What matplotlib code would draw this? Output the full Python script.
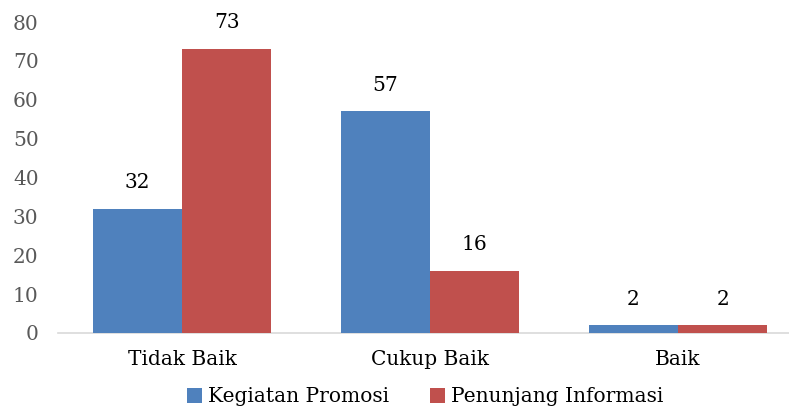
import matplotlib
matplotlib.use("Agg")
import matplotlib.pyplot as plt
import numpy as np

categories = ["Tidak Baik", "Cukup Baik", "Baik"]
series_names = ["Kegiatan Promosi", "Penunjang Informasi"]
kegiatan = [32, 57, 2]
penunjang = [73, 16, 2]
yticks = [0, 10, 20, 30, 40, 50, 60, 70, 80]

colors = ["#4F81BD", "#C0504D"]
plt.rcParams['font.family'] = ['DejaVu Serif']

W, H = 789, 409
fig = plt.figure(figsize=(W/100, H/100), dpi=100)
left_px, right_px = 58, 802
top_px, bot_px = 22, 333
ax = fig.add_axes([left_px/W, 1-bot_px/H, (right_px-left_px)/W, (bot_px-top_px)/H])

fs = 14.5
x = np.arange(len(categories))
bw = 0.36
for i, (vals, name) in enumerate([(kegiatan, series_names[0]), (penunjang, series_names[1])]):
    pos = x + (i-0.5)*bw
    ax.bar(pos, vals, width=bw, color=colors[i], label=name, zorder=3)
    for p, v in zip(pos, vals):
        ax.text(p, v + 4.3, str(v), ha='center', va='bottom', fontsize=fs, color='black')

ax.set_xlim(-0.5, len(categories)-0.5)
ax.set_ylim(0, 80)
ax.set_yticks(yticks)
ax.set_xticks(x)
ax.set_xticklabels(categories, fontsize=fs, color='black')
ax.tick_params(axis='y', labelsize=fs, labelcolor='#595959', length=0, pad=14)
ax.tick_params(axis='x', length=0, pad=12)
for s in ['top', 'right', 'left']:
    ax.spines[s].set_visible(False)
ax.spines['bottom'].set_color('#D9D9D9')
ax.spines['bottom'].set_linewidth(1.2)

fig.legend(loc='center', bbox_to_anchor=(425/W, 1-397/H), ncol=2, frameon=False,
           fontsize=fs, handlelength=0.75, handleheight=0.75, handletextpad=0.3,
           columnspacing=2.0)

fig.savefig("out.png", dpi=100)
